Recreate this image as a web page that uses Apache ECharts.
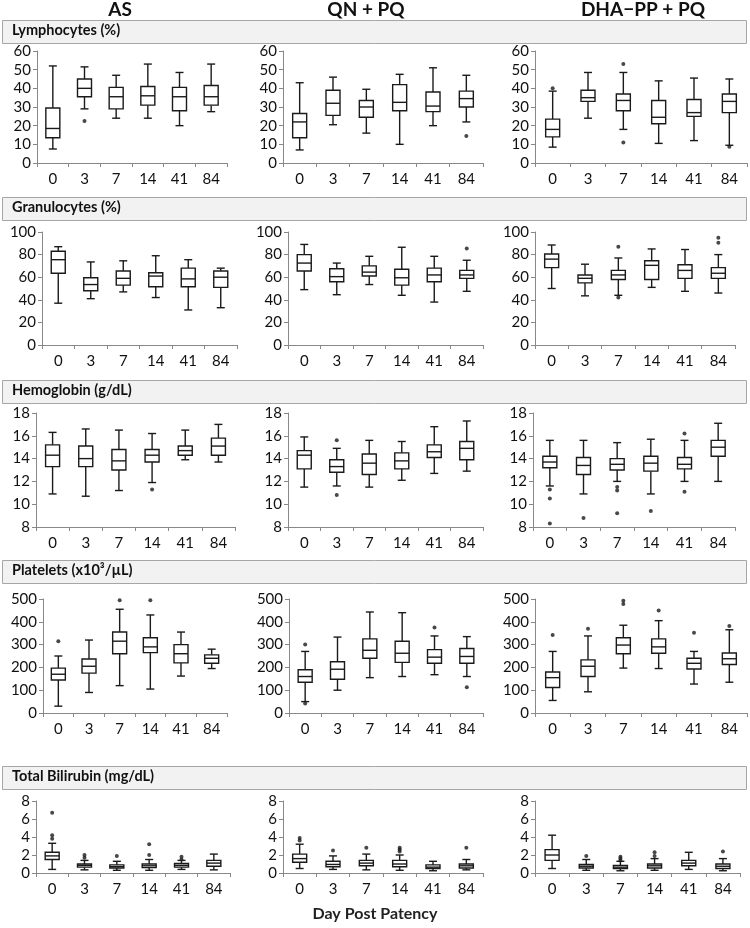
<!DOCTYPE html>
<html><head><meta charset="utf-8">
<script src="https://cdn.jsdelivr.net/npm/echarts@6/dist/echarts.min.js"></script>
<style>html,body{margin:0;padding:0;background:#fff}#c{width:750px;height:928px}</style>
</head><body><div id="c"></div>
<script>
// ---------- DATA ----------
const days = ['0','3','7','14','41','84'];
const groups = ['AS','QN + PQ','DHA\u2212PP + PQ'];
const measures = ['Lymphocytes (%)','Granulocytes (%)','Hemoglobin (g/dL)','Platelets (x10\u00B3/\u00B5L)','Total Bilirubin (mg/dL)'];
const yMin  = [0, 0, 8, 0, 0];
const yMax  = [60, 100, 18, 500, 8];
const yStep = [10, 20, 2, 100, 2];

// box stats per day: [min, q1, median, q3, max]
const lymphAS  = [[7.5,13.5,18.5,29.5,52],[29,35.5,40,45,51.5],[24,29,35.5,40.5,47],[24,31,36,41,53],[20,28,35.5,40.5,48.5],[27.5,31,35.5,41.5,53]];
const lymphQN  = [[7,13.5,22,26.5,43],[20.5,25.5,32,39,46],[16,24.5,30,33.5,39.5],[10,28,32.5,42,47.5],[20,27.5,30.5,38,51],[22,30,34.5,38.5,47]];
const lymphDHA = [[8.5,14,18,23.5,38.5],[24,33,35,39,48.5],[18,28,33.5,37,48.5],[10.5,21,24.5,33.5,44],[12,25,27,34,45.5],[9.5,27,33,37,45]];
const lymphASOut  = [[1,22.5]];
const lymphQNOut  = [[5,14.5]];
const lymphDHAOut = [[0,40],[2,53],[2,11],[5,8.7]];

const granAS  = [[37,63.5,75.5,83,87],[41,48,53.5,59.5,73.5],[47,53,59,65.5,74.5],[42,51.5,61,64,79],[31,51.5,58.5,68,75.5],[33,51,60,65.5,68]];
const granQN  = [[49,65.5,72.5,80,89],[44.5,56,60.5,67.5,72.5],[53.5,61,64.5,70,78.5],[44,53,59.5,67,86.5],[38,56,62,68,78.5],[47.5,59,62,66,75]];
const granDHA = [[50,68.5,76,80.5,88.5],[43.5,55,59,62,71.5],[44,58,62,66,77],[51,58,70.5,74.5,85],[47.5,59,66,71,84.5],[46,59,63.5,68.5,80]];
const granASOut  = [];
const granQNOut  = [[5,85.5]];
const granDHAOut = [[2,87],[2,42],[5,95],[5,90.5]];

const hgbAS  = [[10.9,13.3,14.3,15.2,16.3],[10.7,13.3,14.0,15.1,16.6],[11.2,13.0,13.8,14.8,16.5],[11.9,13.7,14.3,14.8,16.2],[13.9,14.3,14.7,15.1,16.5],[13.7,14.3,15.1,15.8,17.0]];
const hgbQN  = [[11.5,13.1,14.3,14.7,15.9],[11.6,12.8,13.3,13.9,14.9],[11.5,12.6,13.6,14.4,15.6],[12.1,13.1,13.8,14.5,15.5],[12.7,14.1,14.6,15.2,16.8],[12.9,13.9,14.9,15.5,17.3]];
const hgbDHA = [[11.6,13.2,13.7,14.2,15.6],[10.9,12.6,13.4,14.1,15.6],[12.0,13.0,13.5,14.0,15.4],[10.9,12.9,13.6,14.2,15.7],[12.0,13.1,13.5,14.1,15.6],[12.0,14.2,15.0,15.6,17.1]];
const hgbASOut  = [[3,11.3]];
const hgbQNOut  = [[1,15.6],[1,10.8]];
const hgbDHAOut = [[0,11.3],[0,10.5],[0,8.3],[1,8.8],[2,11.5],[2,11.2],[2,9.2],[3,9.4],[4,16.2],[4,11.1]];

const pltAS  = [[30,145,170,197,250],[90,175,205,237,320],[120,260,315,355,455],[105,265,290,330,430],[162,220,260,300,355],[195,218,240,255,280]];
const pltQN  = [[50,135,160,190,270],[100,148,192,225,333],[155,240,275,325,443],[160,222,262,315,440],[168,218,245,278,338],[160,218,248,283,335]];
const pltDHA = [[55,112,155,180,270],[93,160,205,233,338],[197,260,298,330,385],[195,262,290,325,405],[127,193,218,240,270],[135,213,238,263,365]];
const pltASOut  = [[0,315],[2,495],[3,495]];
const pltQNOut  = [[0,300],[0,42],[4,375],[5,113]];
const pltDHAOut = [[0,342],[1,370],[2,492],[2,478],[3,450],[4,352],[5,382]];

const bilAS  = [[0.4,1.5,1.9,2.3,3.3],[0.35,0.65,0.85,1.0,1.4],[0.3,0.55,0.7,0.9,1.3],[0.3,0.6,0.8,1.0,1.5],[0.4,0.65,0.85,1.05,1.4],[0.35,0.75,1.1,1.4,2.1]];
const bilQN  = [[0.5,1.2,1.6,2.1,3.2],[0.4,0.7,0.95,1.3,1.9],[0.35,0.8,1.1,1.4,2.1],[0.3,0.7,1.0,1.4,2.0],[0.25,0.5,0.65,0.9,1.3],[0.35,0.55,0.8,1.0,1.5]];
const bilDHA = [[0.5,1.4,2.0,2.6,4.2],[0.3,0.55,0.75,0.95,1.5],[0.25,0.5,0.65,0.85,1.3],[0.3,0.55,0.8,1.0,1.6],[0.4,0.8,1.1,1.4,2.3],[0.25,0.5,0.75,1.0,1.6]];
const bilASOut  = [[0,6.7],[0,4.2],[0,3.8],[1,2.0],[1,1.7],[2,1.9],[3,3.2],[3,2.0],[4,1.8],[4,1.5]];
const bilQNOut  = [[0,3.9],[0,3.6],[1,2.5],[2,2.8],[3,2.8],[3,2.6],[3,2.4],[5,2.8]];
const bilDHAOut = [[1,1.9],[2,1.8],[2,1.6],[2,1.4],[3,2.3],[3,1.9],[5,2.4]];

const boxData = [
  [lymphAS, lymphQN, lymphDHA],
  [granAS, granQN, granDHA],
  [hgbAS, hgbQN, hgbDHA],
  [pltAS, pltQN, pltDHA],
  [bilAS, bilQN, bilDHA]
];
const outData = [
  [lymphASOut, lymphQNOut, lymphDHAOut],
  [granASOut, granQNOut, granDHAOut],
  [hgbASOut, hgbQNOut, hgbDHAOut],
  [pltASOut, pltQNOut, pltDHAOut],
  [bilASOut, bilQNOut, bilDHAOut]
];

// ---------- LAYOUT ----------
const rowTop    = [51, 232, 413, 599, 801];
const rowHeight = [112, 113, 114, 114, 72];
const colSpans = [
  [[37,227],[283,483],[535,747]],
  [[42,237],[288,483],[535,735]],
  [[36,235],[288,483],[533,735]],
  [[43,227],[289,483],[535,747]],
  [[36,230],[283,483],[535,740]]
];
const headerTop = [20, 197, 380, 560, 766];
const headerH = 23;
const titleX = [120, 366, 643];
const FONT = 'Lato, "Open Sans", sans-serif';
const INK = '#1a1a1a';

function renderBox(params, api) {
  const c = api.value(0);
  const p = [1,2,3,4,5].map(i => api.coord([c, api.value(i)]));
  const cx = p[0][0];
  const bw = 14, cw = 8;
  const s = {stroke: INK, lineWidth: 1.4, fill: null};
  return {type: 'group', children: [
    {type:'line', shape:{x1:cx, y1:p[4][1], x2:cx, y2:p[3][1]}, style:s},
    {type:'line', shape:{x1:cx, y1:p[0][1], x2:cx, y2:p[1][1]}, style:s},
    {type:'line', shape:{x1:cx-cw/2, y1:p[4][1], x2:cx+cw/2, y2:p[4][1]}, style:s},
    {type:'line', shape:{x1:cx-cw/2, y1:p[0][1], x2:cx+cw/2, y2:p[0][1]}, style:s},
    {type:'rect', shape:{x:cx-bw/2, y:p[3][1], width:bw, height:p[1][1]-p[3][1]}, style:{fill:'#fff', stroke:INK, lineWidth:1.4}},
    {type:'line', shape:{x1:cx-bw/2, y1:p[2][1], x2:cx+bw/2, y2:p[2][1]}, style:s}
  ]};
}

const grid = [], xAxis = [], yAxis = [], series = [], graphic = [];
for (let r = 0; r < 5; r++) {
  graphic.push({type:'rect', left:2, top:headerTop[r], shape:{width:744, height:headerH},
    style:{fill:'#f2f2f2', stroke:'#a6a6a6', lineWidth:1}});
  graphic.push({type:'text', left:12, top:headerTop[r]+3,
    style:{text:measures[r], font:'bold 14.5px ' + FONT, fill:'#111'}});
  for (let c = 0; c < 3; c++) {
    const idx = r*3 + c;
    const [l, rr] = colSpans[r][c];
    grid.push({left:l, width:rr-l, top:rowTop[r], height:rowHeight[r], containLabel:false, outerBoundsMode:'none'});
    xAxis.push({type:'category', gridIndex:idx, data:days, boundaryGap:true,
      axisLine:{show:true, lineStyle:{color:'#888', width:1}},
      axisTick:{show:true, length:4, lineStyle:{color:'#888'}},
      axisLabel:{fontSize:15, color:'#111', margin:9, fontFamily:FONT},
      splitLine:{show:false}});
    yAxis.push({type:'value', gridIndex:idx, min:yMin[r], max:yMax[r], interval:yStep[r],
      axisLine:{show:true, lineStyle:{color:'#888', width:1}},
      axisTick:{show:true, length:4, lineStyle:{color:'#888'}},
      axisLabel:{fontSize:15, color:'#111', margin:6, fontFamily:FONT},
      splitLine:{show:false}});
    series.push({type:'custom', xAxisIndex:idx, yAxisIndex:idx, renderItem:renderBox,
      encode:{x:0, y:[1,2,3,4,5]},
      data: boxData[r][c].map((b, i) => [i].concat(b)), silent:true});
    series.push({type:'scatter', xAxisIndex:idx, yAxisIndex:idx, symbol:'circle', symbolSize:4,
      itemStyle:{color:INK}, data: outData[r][c], silent:true, z:3});
  }
}
groups.forEach((g, i) => {
  graphic.push({type:'text', x:titleX[i], y:0, style:{text:g, font:'bold 19px ' + FONT, fill:'#111', textAlign:'center'}});
});
graphic.push({type:'text', x:375, y:906, style:{text:'Day Post Patency', font:'bold 16px ' + FONT, fill:'#222', textAlign:'center'}});

const chart = echarts.init(document.getElementById('c'), null, {renderer:'canvas'});
chart.setOption({animation:false, backgroundColor:'#fff', grid, xAxis, yAxis, series, graphic});
</script></body></html>
